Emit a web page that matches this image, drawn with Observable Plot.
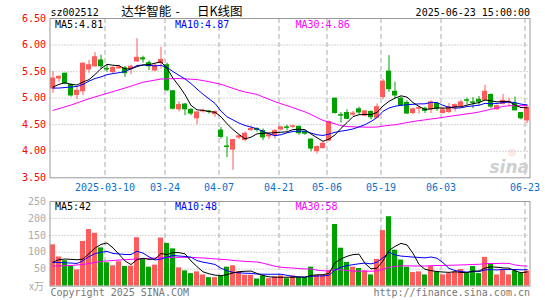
<!DOCTYPE html>
<html><head><meta charset="utf-8">
<script src="https://cdn.jsdelivr.net/npm/d3@7"></script>
<script src="https://cdn.jsdelivr.net/npm/@observablehq/plot@0.6"></script>
<style>
body{margin:0;background:#fff;}
#wrap{position:relative;width:545px;height:300px;overflow:hidden;background:#fff;}
#wrap svg{position:absolute;left:0;}
</style></head><body><div id="wrap"></div>
<script>
// ---- price data (2025-02-25 .. 2025-06-23, 80 trading days) ----
const open  = [5.18,5.37,5.46,5.25,5.06,5.13,5.54,5.60,5.71,5.55, 5.49,5.56,5.56,5.55,5.69,5.75,5.66,5.52,5.66,5.62, 5.13,4.79,4.88,4.78,4.62,4.75,4.75,4.70,4.39,4.09, 4.03,4.26,4.21,4.40,4.42,4.38,4.28,4.30,4.41,4.45, 4.46,4.46,4.36,4.22,4.00,4.06,4.20,4.99,4.68,4.72, 4.69,4.79,4.67,4.74,4.63,5.02,5.50,5.12,4.99,4.91, 4.72,4.80,4.80,4.79,4.89,4.72,4.74,4.81,4.85,4.96, 4.92,4.97,4.96,5.06,4.79,4.89,4.92,4.89,4.72,4.58];
const high  = [5.50,5.42,5.47,5.27,5.20,5.66,5.71,5.86,5.81,5.62, 5.59,5.62,5.60,5.62,6.12,5.79,5.70,5.64,5.96,5.66, 5.14,4.93,4.90,4.80,4.75,4.79,4.77,4.76,4.45,4.27, 4.22,4.30,4.36,4.47,4.44,4.42,4.35,4.41,4.46,4.49, 4.49,4.47,4.38,4.23,4.10,4.18,4.57,5.00,4.73,4.78, 4.75,4.83,4.77,4.76,4.89,5.35,5.80,5.30,5.02,4.95, 4.81,4.85,4.83,4.95,4.92,4.82,4.90,4.89,4.96,5.00, 5.01,5.03,5.24,5.08,4.87,5.07,5.00,5.02,4.73,4.86];
const low   = [5.09,5.30,5.25,5.02,4.97,5.05,5.47,5.58,5.55,5.49, 5.46,5.54,5.39,5.44,5.68,5.66,5.52,5.50,5.55,5.12, 4.78,4.74,4.67,4.67,4.50,4.72,4.70,4.64,4.23,3.88, 3.64,4.22,4.19,4.37,4.36,4.20,4.22,4.23,4.38,4.38, 4.43,4.30,4.30,3.99,3.95,4.04,4.18,4.70,4.53,4.60, 4.66,4.69,4.65,4.59,4.62,4.97,5.11,4.99,4.84,4.69, 4.69,4.70,4.71,4.71,4.75,4.70,4.71,4.74,4.83,4.87, 4.80,4.86,4.94,4.80,4.77,4.87,4.84,4.76,4.59,4.52];
const close = [5.37,5.40,5.28,5.05,5.14,5.65,5.62,5.77,5.60,5.54, 5.57,5.58,5.47,5.59,5.76,5.73,5.60,5.61,5.72,5.15, 4.80,4.87,4.79,4.71,4.73,4.76,4.74,4.74,4.27,4.08, 4.21,4.28,4.33,4.42,4.40,4.26,4.30,4.38,4.45,4.44, 4.47,4.34,4.33,4.05,4.08,4.14,4.55,4.72,4.67,4.61, 4.71,4.73,4.75,4.64,4.83,5.31,5.17,5.05,4.86,4.71, 4.79,4.81,4.76,4.92,4.80,4.77,4.83,4.87,4.92,4.95, 4.91,4.93,5.12,4.84,4.85,4.95,4.93,4.77,4.62,4.82];
const ma5   = [5.21,5.26,5.29,5.26,5.248,5.304,5.348,5.446,5.556,5.636, 5.620,5.612,5.552,5.550,5.594,5.626,5.630,5.658,5.684,5.562, 5.376,5.230,5.066,4.864,4.780,4.772,4.746,4.736,4.648,4.518, 4.408,4.316,4.234,4.264,4.328,4.338,4.342,4.352,4.358,4.366, 4.408,4.416,4.406,4.326,4.254,4.188,4.230,4.308,4.432,4.538, 4.652,4.688,4.694,4.688,4.732,4.852,4.940,5.000,5.044,5.020, 4.916,4.844,4.786,4.798,4.816,4.812,4.816,4.838,4.838,4.868, 4.896,4.916,4.966,4.950,4.930,4.938,4.938,4.868,4.824,4.818];
const ma10  = [5.19,5.19,5.20,5.21,5.22,5.26,5.32,5.37,5.40,5.442, 5.462,5.480,5.499,5.553,5.615,5.623,5.621,5.605,5.617,5.578, 5.501,5.430,5.362,5.274,5.171,5.074,4.988,4.901,4.756,4.649, 4.590,4.531,4.485,4.456,4.423,4.373,4.329,4.293,4.311,4.347, 4.373,4.379,4.379,4.342,4.310,4.298,4.323,4.357,4.379,4.396, 4.420,4.459,4.501,4.560,4.635,4.752,4.814,4.847,4.866,4.876, 4.884,4.892,4.893,4.921,4.918,4.864,4.830,4.812,4.818,4.842, 4.854,4.866,4.902,4.894,4.899,4.917,4.927,4.917,4.887,4.874];
const ma30Idx = [0,3,6,9,12,15,18,21,24,26,28, ...d3.range(29, 80)];
const ma30  = [4.77,4.87,4.99,5.09,5.19,5.30,5.36,5.37,5.35,5.31,5.26,
  5.223,5.184,5.147,5.115,5.094,5.070,5.023,4.979,4.933,4.895,4.858,4.821,4.780,4.742,4.691,4.635,4.582,4.547,4.517,4.482,4.464,
  4.461,4.456,4.455,4.453,4.456,4.474,4.489,4.499,4.519,4.540,4.559,4.577,4.591,4.608,4.621,4.638,4.656,4.672,4.688,4.705,
  4.719,4.739,4.765,4.792,4.817,4.844,4.857,4.859,4.857,4.864];
// ---- volume data (万手) ----
const vol   = [122,86,75,58,48,132,167,156,113,69, 60,72,58,59,143,79,56,62,142,126, 110,54,45,37,42,33,25,25,29,56, 60,42,32,32,21,30,22,27,30,22, 30,25,25,56,31,31,45,182,112,70, 56,52,45,33,79,164,205,106,77,56, 40,42,33,58,42,33,37,42,49,37, 58,37,85,66,33,48,33,45,38,45];
const vma5  = [71,78,80,79,77.8,79.8,96,112.2,123.2,127.4, 113,94,74.4,63.6,78.4,82.2,79,79.8,96.4,93, 99.2,98.8,95.4,74.4,57.6,42.2,36.4,32.4,30.8,33.6, 39,42.4,43.8,44.4,37.4,31.4,27.4,26.4,26,26.2, 26.2,26.8,26.4,31.6,33.4,33.6,37.6,69,80.2,88, 93,94.4,67,51.2,53,74.6,105.2,117.4,126.2,121.6, 96.8,64.2,49.6,45.8,43,41.6,40.6,42.4,40.6,39.6, 44.6,44.6,53.2,56.6,55.8,53.8,53,45,39.4,41.8];
const vma10 = [70,70,69,68,67,75,87,96,100,102.6, 96.4,95,93.3,93.4,102.9,97.6,86.5,77.1,80,85.7, 90.7,88.9,87.6,85.4,75.3,70.7,67.6,63.9,52.6,45.6, 40.6,39.4,38.1,37.6,35.5,35.2,34.9,35.1,35.2,31.8, 28.8,27.1,26.4,28.8,29.8,29.9,32.2,47.7,55.9,60.7, 63.3,66,68,65.7,70.5,83.8,99.8,92.2,88.7,87.3, 85.7,84.7,83.5,86,82.3,69.2,52.4,46,43.2,41.3, 43.1,42.6,47.8,48.6,47.7,49.2,48.8,49.1,48,48.8];
const vma30Idx = [0,3,5,8,11,14,17,20,23,26,28, ...d3.range(29, 80)];
const vma30 = [59,61,64,73,77,80,83,85,85,82,79,
  78,75.9,74.4,73,72.1,71.2,67.8,63,58.7,55.9,54.4,53.4,51.8,50.7,50.6,46.9,45.3,44.9,48.9,47.9,46,
  44.2,44.2,44.2,44,45.3,49.6,55.6,58.3,59.9,59.9,59.3,59.3,59.3,60.2,60.9,61,61.5,62,62.6,63.1,
  64,64.4,66.4,66.8,66.8,67.4,67,62.4,60,59.1];
// ---- ticks / labels ----
const tickIdx = [9,19,28,38,46,55,65,79];
const tickLabels = ["2025-03-10","03-24","04-07","04-21","05-06","05-19","06-03","06-23"];
const priceTicks = [3.5,4,4.5,5,5.5,6,6.5];
const priceGrid = [4,4.5,5,5.5,6];
const volTicks = [50,100,150,200,250];
const volGrid = [50,100,150,200];

const RED = "#ff5b5b", GREEN = "#00a000";
const MONO = "DejaVu Sans Mono";
const candles = close.map((c, i) => ({i, o: open[i], h: high[i], l: low[i], c, v: vol[i], col: c >= open[i] ? RED : GREEN}));
const pts = (arr, idx) => arr.map((v, k) => ({i: idx ? idx[k] : k, v}));
const common = {
  width: 545, marginLeft: 49.5, marginRight: 15.5,
  x: {domain: [-0.5, 79.5], axis: null},
  color: {type: "identity"},
  style: `font-family:'${MONO}';font-size:10px;background:transparent;overflow:visible;`
};
const lbl = (s, dx, dy, fill, extra = {}) => Plot.text([s], {frameAnchor: "top-left", textAnchor: "start", lineAnchor: "middle", dx, dy, fill, text: d => d, fontFamily: MONO, fontSize: 10, ...extra});

const price = Plot.plot({
  ...common, height: 195, marginTop: 18, marginBottom: 17.7,
  y: {domain: [3.5, 6.5], axis: null},
  marks: [
    Plot.ruleY(priceGrid, {stroke: "#aaa", strokeDasharray: "1,2"}),
    Plot.ruleX(tickIdx, {dx: -2, stroke: "#aaa", strokeDasharray: "5,3"}),
    Plot.text(["sina"], {frameAnchor: "bottom-right", textAnchor: "end", lineAnchor: "middle", dx: -1, dy: -10, text: d => d, fill: "#cfcfcf", fontFamily: "DejaVu Sans", fontWeight: "bold", fontStyle: "italic", fontSize: 17}),
    Plot.text(["◎"], {frameAnchor: "bottom-right", textAnchor: "middle", lineAnchor: "middle", dx: -18, dy: -26, text: d => d, fill: "#f2bcbc", fontFamily: "DejaVu Sans", fontSize: 9}),
    Plot.ruleX(candles, {x: "i", y1: "l", y2: "h", stroke: "col"}),
    Plot.rect(candles, {x1: d => d.i - 0.42, x2: d => d.i + 0.42, y1: "o", y2: "c", fill: "col", insetTop: -0.5, insetBottom: -0.5}),
    Plot.line(pts(ma30, ma30Idx), {x: "i", y: "v", stroke: "#ff00ff", strokeWidth: 1}),
    Plot.line(pts(ma10), {x: "i", y: "v", stroke: "#0000ff", strokeWidth: 1}),
    Plot.line(pts(ma5), {x: "i", y: "v", stroke: "#000", strokeWidth: 1}),
    Plot.frame({stroke: "#999"}),
    Plot.text(priceTicks, {y: d => d, text: d => d.toFixed(2), frameAnchor: "left", textAnchor: "end", dx: -4, fill: "#f00", fontFamily: MONO, fontSize: 10}),
    Plot.text(tickIdx, {x: d => d, text: (d, k) => tickLabels[k], frameAnchor: "bottom", lineAnchor: "middle", dx: -2, dy: 9.5, fill: "#0a6fd0", fontFamily: MONO, fontSize: 10}),
    lbl("MA5:4.81", 5, 6, "#000"),
    lbl("MA10:4.87", 125, 6, "#0000ff"),
    lbl("MA30:4.86", 245.5, 6, "#ff00ff"),
    lbl("sz002512", 0.5, -6.2, "#000"),
    lbl("达华智能", 71.2, -6.8, "#000", {fontFamily: "Noto Sans CJK SC", fontSize: 12.5}),
    lbl("-", 125.5, -6.8, "#000", {fontFamily: "Noto Sans CJK SC", fontSize: 12.5}),
    lbl("日K线图", 147, -6.8, "#000", {fontFamily: "Noto Sans CJK SC", fontSize: 12.5}),
    Plot.text(["2025-06-23 15:00:00"], {frameAnchor: "top-right", textAnchor: "end", lineAnchor: "middle", dy: -6.2, text: d => d, fill: "#000", fontFamily: MONO, fontSize: 10})
  ]
});

const volume = Plot.plot({
  ...common, height: 105, marginTop: 6, marginBottom: 14.4,
  y: {domain: [0, 250], axis: null},
  marks: [
    Plot.ruleY(volGrid, {stroke: "#aaa", strokeDasharray: "1,2"}),
    Plot.ruleX(tickIdx, {dx: -2, stroke: "#aaa", strokeDasharray: "5,3"}),
    Plot.rect(candles, {x1: d => d.i - 0.42, x2: d => d.i + 0.42, y1: 0, y2: "v", fill: "col"}),
    Plot.line(pts(vma30, vma30Idx), {x: "i", y: "v", stroke: "#ff00ff", strokeWidth: 1}),
    Plot.line(pts(vma10), {x: "i", y: "v", stroke: "#0000ff", strokeWidth: 1}),
    Plot.line(pts(vma5), {x: "i", y: "v", stroke: "#000", strokeWidth: 1}),
    Plot.frame({stroke: "#999"}),
    Plot.text(volTicks, {y: d => d, text: d => String(d), frameAnchor: "left", textAnchor: "end", dx: -4, fill: "#aaa", fontFamily: MONO, fontSize: 10}),
    Plot.text(["x万"], {frameAnchor: "bottom-left", textAnchor: "end", lineAnchor: "middle", dx: -6, dy: 0.5, text: d => d, fill: "#aaa", fontFamily: "Noto Sans CJK SC", fontSize: 10}),
    lbl("MA5:42", 5, 5.3, "#000"),
    lbl("MA10:48", 125, 5.3, "#0000ff"),
    lbl("MA30:58", 245.5, 5.3, "#ff00ff"),
    Plot.text(["Copyright 2025 SINA.COM"], {frameAnchor: "bottom-left", textAnchor: "start", lineAnchor: "middle", dx: 0.5, dy: 6.2, text: d => d, fill: "#777", fontFamily: MONO, fontSize: 10}),
    Plot.text(["http://finance.sina.com.cn"], {frameAnchor: "bottom-right", textAnchor: "end", lineAnchor: "middle", dy: 6.2, text: d => d, fill: "#777", fontFamily: MONO, fontSize: 10})
  ]
});

const wrap = document.getElementById("wrap");
price.style.top = "0px";
volume.style.top = "195px";
wrap.appendChild(price);
wrap.appendChild(volume);
</script></body></html>
